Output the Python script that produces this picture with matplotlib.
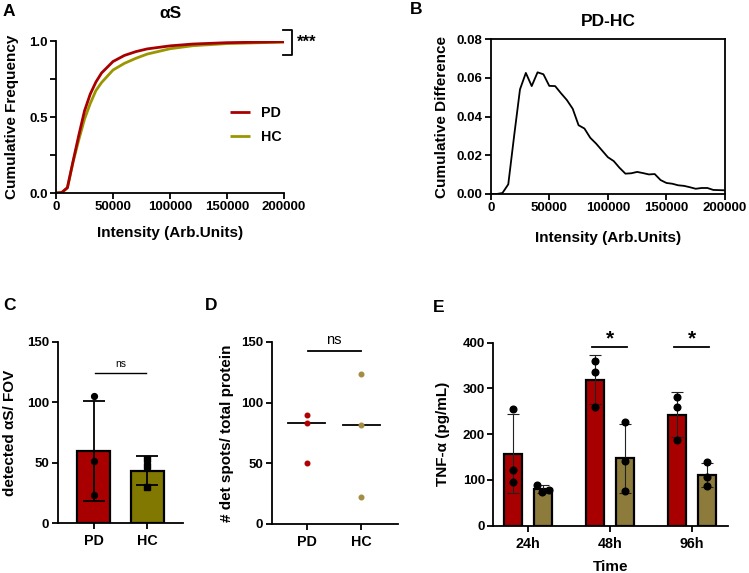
import numpy as np
import matplotlib
matplotlib.use("Agg")
import matplotlib.pyplot as plt
from matplotlib.ticker import FuncFormatter, MultipleLocator

plt.rcParams['font.family'] = ['Liberation Sans', 'DejaVu Sans']
plt.rcParams['font.weight'] = 'bold'
plt.rcParams['axes.labelweight'] = 'bold'
plt.rcParams['axes.titleweight'] = 'bold'

# ---------------- data ----------------
# Panel A: cumulative frequency
intensity_A = [0, 5000, 10000, 15000, 20000, 25000, 30000, 35000, 40000, 50000,
               60000, 70000, 80000, 100000, 120000, 150000, 200000]
cum_PD = [0, 0.003, 0.035, 0.21, 0.38, 0.54, 0.65, 0.73, 0.79, 0.865,
          0.905, 0.93, 0.948, 0.968, 0.98, 0.989, 0.995]
cum_HC = [0, 0.003, 0.034, 0.205, 0.35, 0.486, 0.588, 0.674, 0.727, 0.809,
          0.853, 0.886, 0.914, 0.949, 0.969, 0.983, 0.993]

# Panel B: cumulative difference PD-HC
intensity_B = list(range(0, 200001, 5000))
diff_B = [0, 0, 0.0005, 0.005, 0.03, 0.054, 0.0625, 0.0557, 0.0628, 0.0618,
          0.0558, 0.0557, 0.052, 0.0485, 0.044, 0.0355, 0.0338, 0.029, 0.026,
          0.0225, 0.019, 0.017, 0.0135, 0.0105, 0.0107, 0.0114, 0.0108, 0.0101,
          0.0103, 0.0072, 0.0057, 0.0053, 0.0045, 0.0042, 0.0035, 0.0027,
          0.0031, 0.0031, 0.0021, 0.002, 0.0019]

# Panel C: detected aS / FOV
groups_C = ['PD', 'HC']
C_PD = [105, 51, 23]
C_HC = [53, 47, 30]

# Panel D: # det spots / total protein
D_PD = [90, 83, 50]
D_HC = [124, 82, 22]

# Panel E: TNF-alpha
times_E = ['24h', '48h', '96h']
E_PD = [[256, 122, 95], [361, 337, 260], [281, 259, 187]]
E_HC = [[89, 73, 77], [226, 142, 75], [140, 106, 87]]

# ---------------- style ----------------
c_pd = '#a80000'
c_hc_line = '#9a9600'
c_hc_C = '#807800'
c_hc_E = '#8d7b3c'
c_pd_dot = '#b00000'
c_hc_dot = '#a48c42'

W, H = 749, 573
fig = plt.figure(figsize=(W / 100, H / 100), dpi=100)

def ax_px(l, t, r, b):
    return fig.add_axes([l / W, 1 - b / H, (r - l) / W, (b - t) / H])

TL = 9.5
CL = 10.3
AL = 11
LW = 1.3

def style(ax, box=False):
    for s in ['left', 'bottom', 'top', 'right']:
        ax.spines[s].set_linewidth(LW)
    if not box:
        ax.spines['top'].set_visible(False)
        ax.spines['right'].set_visible(False)
    ax.tick_params(direction='out', length=4, width=LW, labelsize=TL, pad=2)
    ax.tick_params(which='minor', direction='out', length=4, width=LW)
    for lab in ax.get_xticklabels() + ax.get_yticklabels():
        lab.set_fontweight('bold')

plain = FuncFormatter(lambda v, p: f"{int(v)}")

# ---------------- Panel A ----------------
axA = ax_px(56, 41, 284, 193)
axA.plot(intensity_A, cum_HC, color=c_hc_line, lw=2.0, label='HC', solid_capstyle='butt')
axA.plot(intensity_A, cum_PD, color=c_pd, lw=2.0, label='PD', solid_capstyle='butt')
axA.set_xlim(0, 200000)
axA.set_ylim(0, 1.0)
axA.set_xticks([0, 50000, 100000, 150000, 200000])
axA.xaxis.set_major_formatter(plain)
axA.set_yticks([0, 0.5, 1.0])
axA.set_yticklabels(['0.0', '0.5', '1.0'])
axA.yaxis.set_minor_locator(MultipleLocator(0.25))
style(axA)
axA.set_xlabel('Intensity (Arb.Units)', fontsize=AL)
axA.set_ylabel('Cumulative Frequency', fontsize=AL)
axA.xaxis.set_label_coords(0.5, -0.263)
axA.xaxis.label.set_va('center')
axA.yaxis.set_label_coords(-0.193, 0.5)
axA.yaxis.label.set_va('center')
axA.set_title('αS', fontsize=12.5, pad=0, y=1.184, va='center')
h, l = axA.get_legend_handles_labels()
axA.legend(h[::-1], l[::-1], loc='center left', bbox_to_anchor=(0.763, 0.45),
           frameon=False, fontsize=CL, handlelength=1.4, handletextpad=0.8,
           labelspacing=0.7, borderpad=0, borderaxespad=0)
# significance bracket
axA.plot([0.996, 1.035, 1.035, 0.996], [1.072, 1.072, 0.908, 0.908],
         transform=axA.transAxes, color='black', lw=1.3, clip_on=False)
axA.text(1.055, 0.99, '***', transform=axA.transAxes, fontsize=12, va='center', ha='left')

# ---------------- Panel B ----------------
axB = ax_px(490.7, 39, 725, 194)
axB.plot(intensity_B, diff_B, color='black', lw=1.3)
axB.set_xlim(0, 200000)
axB.set_ylim(0, 0.08)
axB.set_xticks([0, 50000, 100000, 150000, 200000])
axB.xaxis.set_major_formatter(plain)
axB.set_yticks([0, 0.02, 0.04, 0.06, 0.08])
axB.set_yticklabels(['0.00', '0.02', '0.04', '0.06', '0.08'])
style(axB, box=True)
axB.set_xlabel('Intensity (Arb.Units)', fontsize=AL)
axB.set_ylabel('Cumulative Difference', fontsize=AL)
axB.xaxis.set_label_coords(0.5, -0.284)
axB.xaxis.label.set_va('center')
axB.yaxis.set_label_coords(-0.209, 0.5)
axB.yaxis.label.set_va('center')
axB.set_title('PD-HC', fontsize=12.5, pad=0, y=1.11, va='center')

# ---------------- Panel C ----------------
axC = ax_px(57.7, 342, 183, 523)
xC = np.arange(len(groups_C))
dataC = [C_PD, C_HC]
meansC = [np.mean(d) for d in dataC]
sdsC = [np.std(d, ddof=1) for d in dataC]
axC.bar(xC, meansC, width=0.62, color=[c_pd, c_hc_C], edgecolor='black', linewidth=1.6, zorder=2)
axC.errorbar(xC, meansC, yerr=sdsC, fmt='none', ecolor='black', elinewidth=1.3,
             capsize=8, capthick=1.3, zorder=3)
axC.plot([xC[0]] * 3, C_PD, 'o', color='black', ms=4.2, zorder=4)
axC.plot([xC[1]] * 3, C_HC, 's', color='black', ms=3.8, zorder=4)
axC.set_xlim(-0.67, 1.67)
axC.set_ylim(0, 150)
axC.set_yticks([0, 50, 100, 150])
axC.set_xticks(xC)
axC.set_xticklabels(groups_C)
style(axC)
axC.tick_params(axis='x', labelsize=CL, pad=4)
axC.set_ylabel('detected αS/ FOV', fontsize=AL)
axC.yaxis.set_label_coords(-0.38, 0.5)
axC.yaxis.label.set_va('center')
axC.plot([0.03, 0.97], [124.5, 124.5], color='black', lw=1.0, clip_on=False)
axC.text(0.5, 128, 'ns', fontsize=7.5, fontweight='normal', ha='center', va='bottom')

# ---------------- Panel D ----------------
axD = ax_px(271.7, 342, 398, 524)
xD = np.arange(2)
axD.plot([xD[0]] * 3, D_PD, 'o', color=c_pd_dot, ms=3.3, zorder=3)
axD.plot([xD[1]] * 3, D_HC, 'o', color=c_hc_dot, ms=3.3, zorder=3)
for xi, d in zip(xD, [D_PD, D_HC]):
    med = np.median(d)
    axD.plot([xi - 0.34, xi + 0.34], [med, med], color='black', lw=1.3, zorder=2)
axD.set_xlim(-0.645, 1.68)
axD.set_ylim(0, 150)
axD.set_yticks([0, 50, 100, 150])
axD.set_xticks(xD)
axD.set_xticklabels(['PD', 'HC'])
style(axD)
axD.tick_params(axis='x', labelsize=CL, pad=4)
axD.set_ylabel('# det spots/ total protein', fontsize=AL)
axD.yaxis.set_label_coords(-0.354, 0.5)
axD.yaxis.label.set_va('center')
axD.plot([0.03, 1.0], [142.3, 142.3], color='black', lw=1.3, clip_on=False)
axD.text(0.5, 146, 'ns', fontsize=10.5, fontweight='normal', ha='center', va='bottom')

# ---------------- Panel E ----------------
axE = ax_px(493.3, 342.7, 728, 525.7)
xE = np.arange(len(times_E))
off = 0.183
bw = 0.228
mPD = [np.mean(d) for d in E_PD]
sPD = [np.std(d, ddof=1) for d in E_PD]
mHC = [np.mean(d) for d in E_HC]
sHC = [np.std(d, ddof=1) for d in E_HC]
axE.bar(xE - off, mPD, width=bw, color=c_pd, edgecolor='black', linewidth=1.6, zorder=2)
axE.bar(xE + off, mHC, width=bw, color=c_hc_E, edgecolor='black', linewidth=1.6, zorder=2)
axE.errorbar(xE - off, mPD, yerr=sPD, fmt='none', ecolor='#222222', elinewidth=0.8,
             capsize=4, capthick=0.8, zorder=3)
axE.errorbar(xE + off, mHC, yerr=sHC, fmt='none', ecolor='#222222', elinewidth=0.8,
             capsize=4, capthick=0.8, zorder=3)
jit_24 = [-0.073, -0.01, 0.077]
for i in range(len(times_E)):
    axE.plot([xE[i] - off] * 3, E_PD[i], 'o', color='black', ms=4.8, zorder=4)
    jx = jit_24 if i == 0 else [0, 0, 0]
    axE.plot([xE[i] + off + j for j in jx], E_HC[i], 'o', color='black', ms=4.8, zorder=4)
axE.set_xlim(-0.423, 2.44)
axE.set_ylim(0, 400)
axE.set_yticks([0, 100, 200, 300, 400])
axE.set_xticks(xE)
axE.set_xticklabels(times_E)
style(axE)
axE.tick_params(axis='x', labelsize=CL, pad=4)
axE.set_xlabel('Time', fontsize=AL)
axE.xaxis.set_label_coords(0.5, -0.226)
axE.xaxis.label.set_va('center')
axE.set_ylabel('TNF-α (pg/mL)', fontsize=AL)
axE.yaxis.set_label_coords(-0.214, 0.5)
axE.yaxis.label.set_va('center')
for i in [1, 2]:
    axE.plot([xE[i] - off - 0.03, xE[i] + off + 0.03], [391, 391], color='black', lw=1.3, clip_on=False)
    axE.text(xE[i], 397, '*', fontsize=15, ha='center', va='baseline')

# ---------------- panel letters ----------------
for lab, x, y in [('A', 3, 11), ('B', 410, 9), ('C', 3, 306), ('D', 205, 306), ('E', 433, 307)]:
    fig.text(x / W, 1 - y / H, lab, fontsize=12.5, fontweight='bold', ha='left', va='center')

fig.savefig('out.png', dpi=100)
